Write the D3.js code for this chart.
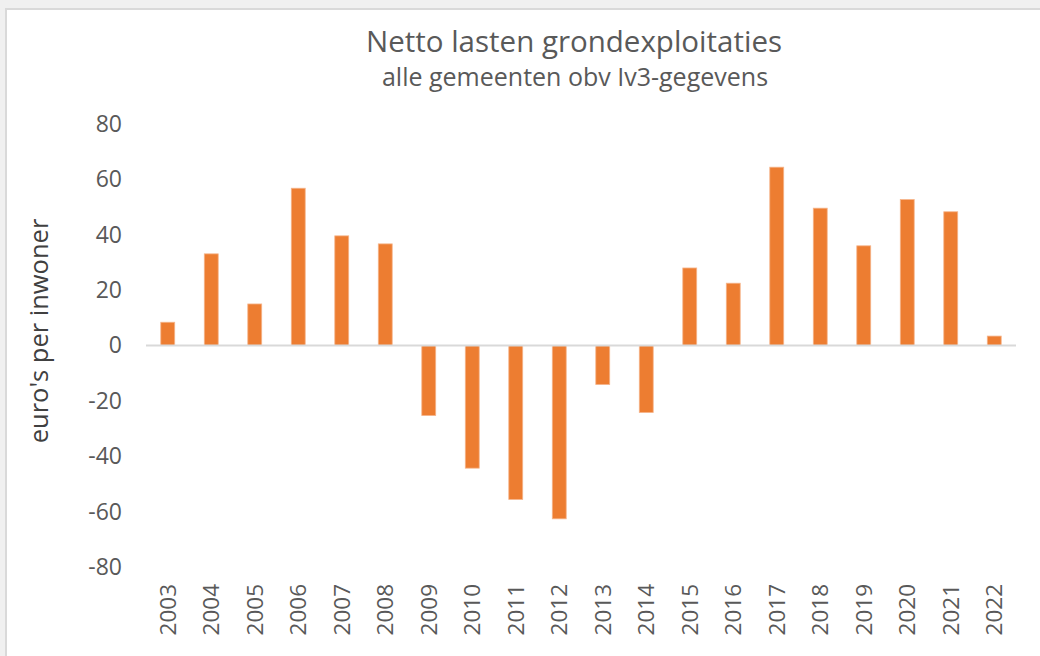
<!DOCTYPE html>
<html>
<head>
<meta charset="utf-8">
<script src="https://cdn.jsdelivr.net/npm/d3@7"></script>
<style>
  body { margin: 0; background: #f0f0f0; }
  #chart { position: absolute; left: 0; top: 0; }
</style>
</head>
<body>
<div id="chart"></div>
<script>
// data
var years = ["2003","2004","2005","2006","2007","2008","2009","2010","2011","2012",
             "2013","2014","2015","2016","2017","2018","2019","2020","2021","2022"];
var values = [8.4, 33.1, 15.0, 56.8, 39.6, 36.7, -25.3, -44.3, -55.6, -62.6,
              -14.1, -24.2, 28.0, 22.5, 64.4, 49.6, 36.0, 52.7, 48.3, 3.4];
var yTicks = [-80, -60, -40, -20, 0, 20, 40, 60, 80];

var width = 1040, height = 656;
var font = "'Open Sans', sans-serif";

var svg = d3.select("#chart")
    .append("svg")
    .attr("width", width)
    .attr("height", height);

// grey frame like the spreadsheet window
svg.append("rect").attr("x", 0).attr("y", 0).attr("width", width).attr("height", height).attr("fill", "#f0f0f0");
svg.append("rect").attr("x", 5).attr("y", 8).attr("width", width - 5).attr("height", height - 8).attr("fill", "#d9d9d9");
svg.append("rect").attr("x", 7).attr("y", 10).attr("width", width - 7).attr("height", height - 10).attr("fill", "#ffffff");

var x = d3.scaleBand()
    .domain(years)
    .range([146, 1016])
    .paddingInner(0.68)
    .paddingOuter(0.34);

var y = d3.scaleLinear()
    .domain([-80, 80])
    .range([567, 124]);

// titles
svg.append("text")
    .attr("x", 574).attr("y", 52)
    .attr("text-anchor", "middle")
    .attr("font-family", font)
    .attr("font-size", 29.5)
    .attr("fill", "#595959")
    .text("Netto lasten grondexploitaties");

svg.append("text")
    .attr("x", 575).attr("y", 86)
    .attr("text-anchor", "middle")
    .attr("font-family", font)
    .attr("font-size", 25)
    .attr("fill", "#595959")
    .text("alle gemeenten obv Iv3-gegevens");

// y axis labels
svg.append("g")
    .attr("transform", "translate(122,0)")
    .call(d3.axisLeft(y).tickValues(yTicks).tickSize(0).tickPadding(0).tickFormat(d => String(d)))
    .call(g => g.select(".domain").remove())
    .call(g => g.selectAll("text")
        .attr("font-family", font)
        .attr("font-size", 23)
        .attr("fill", "#595959"));

svg.append("text")
    .attr("transform", "translate(48,331) rotate(-90)")
    .attr("text-anchor", "middle")
    .attr("font-family", font)
    .attr("font-size", 25.5)
    .attr("fill", "#404040")
    .text("euro's per inwoner");

// bars
svg.append("g")
    .selectAll("rect")
    .data(values)
    .join("rect")
    .attr("x", (d, i) => x(years[i]))
    .attr("y", d => y(Math.max(0, d)))
    .attr("width", x.bandwidth())
    .attr("height", d => Math.abs(y(d) - y(0)))
    .attr("fill", "#ed7d31")
    .attr("stroke", "#f5b48a")
    .attr("stroke-width", 0.8);

// zero line
svg.append("line")
    .attr("x1", 146).attr("x2", 1016)
    .attr("y1", y(0)).attr("y2", y(0))
    .attr("stroke", "#d9d9d9")
    .attr("stroke-width", 2);

// x labels, rotated
svg.append("g")
    .selectAll("text")
    .data(years)
    .join("text")
    .attr("transform", d => "translate(" + (x(d) + x.bandwidth() / 2 + 8) + ",584) rotate(-90)")
    .attr("text-anchor", "end")
    .attr("font-family", font)
    .attr("font-size", 22.5)
    .attr("fill", "#595959")
    .text(d => d);
</script>
</body>
</html>
